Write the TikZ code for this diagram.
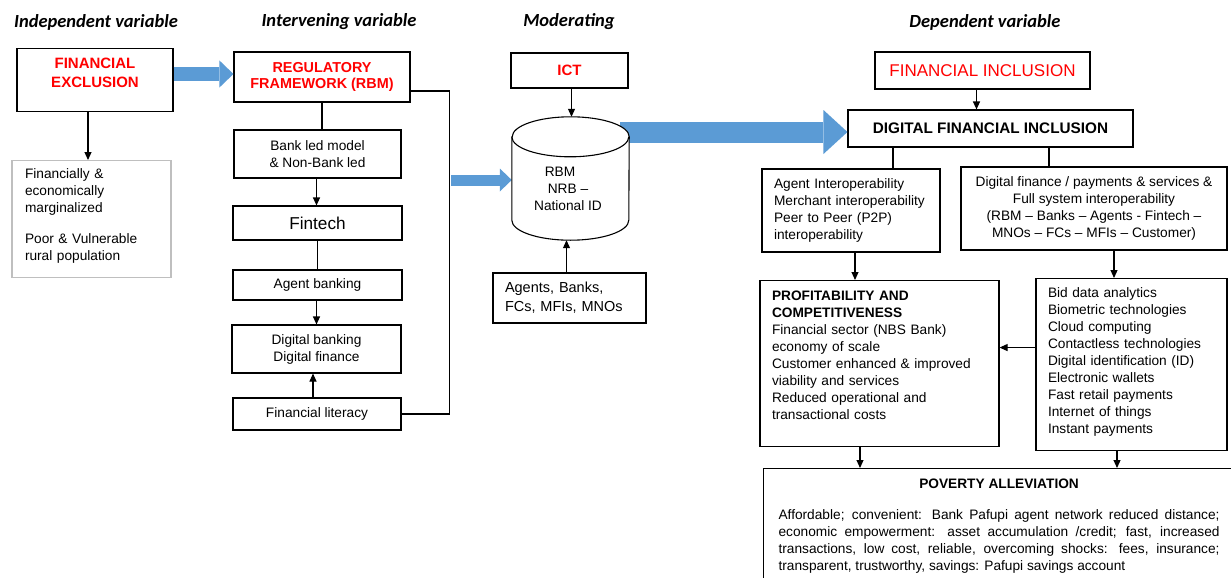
\documentclass[tikz,border=0pt]{standalone}
\usepackage{fontspec}
\setmainfont{Liberation Sans}
\newfontfamily\headfont{Carlito}
\usetikzlibrary{arrows.meta}
\definecolor{flowblue}{RGB}{91,155,213}
\definecolor{keyred}{RGB}{255,0,0}
\tikzset{
	box/.style={draw, line width=1.1pt, inner sep=0pt, align=center, font=\fontsize{13.7}{17}\selectfont},
	leftbox/.style={box, align=left, inner xsep=12pt},
	keybox/.style={box, text=keyred, font=\fontsize{15}{19}\selectfont\bfseries},
	head/.style={font=\headfont\fontsize{18.5}{22}\selectfont\bfseries\itshape},
	link/.style={line width=1.1pt, -{Triangle[length=8pt,width=7pt]}},
	plain/.style={line width=1.1pt},
	flow/.style={flowblue, line width=#1}
}
\begin{document}
\begin{tikzpicture}[x=1pt,y=-1pt]
				\useasboundingbox (0,0) rectangle (1231,578);
				\node[head] (hind) at (96,22) {Independent variable};
				\node[head] (hint) at (339,22) {Intervening variable};
				\node[head] (hmod) at (569,22) {Moderating};
				\node[head] (hdep) at (985,22) {Dependent variable};
				\node[keybox, minimum width=156pt, anchor=north, text height=39pt, text depth=24pt] (fe) at (95,48) {FINANCIAL\\EXCLUSION};
				\node[leftbox, draw=black!25, text width=133pt, inner xsep=13pt, anchor=north, text height=18pt, text depth=99pt] (marg) at (91.5,160)
					{Financially \&\\economically\\marginalized\\[14pt]Poor \& Vulnerable\\rural population};
				\node[keybox, minimum width=176pt, minimum height=50pt, font=\fontsize{14.4}{16}\selectfont\bfseries] (reg) at (322,77) {REGULATORY\\FRAMEWORK (RBM)};
				\node[box, minimum width=167pt, minimum height=48pt] (bank) at (317.5,154) {Bank led model\\\& Non-Bank led};
				\node[box, minimum width=169pt, minimum height=34pt, font=\fontsize{17.2}{19}\selectfont] (fintech) at (317.5,223) {Fintech};
				\node[box, minimum width=169pt, minimum height=30pt] (agentb) at (317.5,285) {Agent banking};
				\node[box, minimum width=169pt, minimum height=48pt] (digi) at (316.5,349) {Digital banking\\Digital finance};
				\node[box, minimum width=168pt, minimum height=32pt] (lit) at (317,414) {Financial literacy};
				\node[keybox, minimum width=117pt, minimum height=35pt] (ict) at (569.5,70.5) {ICT};
				\node[minimum width=117pt, minimum height=123pt, inner sep=0pt] (db) at (570.5,178.5) {};
				\node[leftbox, text width=129pt, minimum height=50pt, font=\fontsize{14.5}{19}\selectfont] (agents) at (569.5,298) {Agents, Banks,\\FCs, MFIs, MNOs};
				\node[box, minimum width=215pt, minimum height=37pt, text=keyred, font=\fontsize{17}{20}\selectfont] (fi) at (982.5,70.5) {FINANCIAL INCLUSION};
				\node[box, minimum width=285pt, minimum height=37pt, font=\fontsize{15.3}{18}\selectfont\bfseries] (dfi) at (990.5,128.5) {DIGITAL FINANCIAL INCLUSION};
				\node[leftbox, text width=154pt, minimum height=83pt] (interop) at (851,210.5)
					{Agent Interoperability\\Merchant interoperability\\Peer to Peer (P2P)\\interoperability};
				\node[box, minimum width=266pt, minimum height=83pt] (fullsys) at (1094,208.5)
					{Digital finance / payments \& services \&\\Full system interoperability\\(RBM -- Banks -- Agents - Fintech --\\MNOs -- FCs -- MFIs -- Customer)};
				\node[leftbox, text width=215pt, anchor=north, text height=20pt, text depth=146pt] (profit) at (879.5,280)
					{\textbf{PROFITABILITY AND}\\\textbf{COMPETITIVENESS}\\Financial sector (NBS Bank)\\economy of scale\\Customer enhanced \& improved\\viability and services\\Reduced operational and\\transactional costs};
				\node[leftbox, text width=167pt, anchor=north, text height=19pt, text depth=153pt] (tech) at (1131.5,278)
					{Bid data analytics\\Biometric technologies\\Cloud computing\\Contactless technologies\\Digital identification (ID)\\Electronic wallets\\Fast retail payments\\Internet of things\\Instant payments};
				\node[box, anchor=north west, text width=441pt, inner xsep=15pt, inner ysep=0pt, text height=20pt, text depth=100pt, align=justify] (pov) at (763,468)
					{\hyphenpenalty=10000\exhyphenpenalty=10000\makebox[\linewidth]{\bfseries POVERTY ALLEVIATION}\\[14pt]Affordable; convenient: Bank Pafupi agent network reduced distance; economic empowerment: asset accumulation /credit; fast, increased transactions, low cost, reliable, overcoming shocks: fees, insurance; transparent, trustworthy, savings: Pafupi savings account};
				\draw[flow=14pt, -{Triangle[length=14pt,width=27pt,line width=0pt]}] (fe.east |- 0,74) -- (reg.west |- 0,74);
				\coordinate (loop) at (451,180);
				\draw[flow=11pt, -{Triangle[length=12pt,width=23pt,line width=0pt]}] (loop) -- (loop -| db.west);
				\coordinate (big) at (620,132);
				\draw[flow=21pt, -{Triangle[length=24pt,width=44pt,line width=0pt]}] (big) -- (big -| dfi.west);
				\draw[plain, fill=white] ([yshift=-20]db.north west) -- ([yshift=20]db.south west)
					arc[start angle=180, end angle=360, x radius=58.5pt, y radius=20pt] -- ([yshift=-20]db.north east)
					arc[start angle=0, end angle=180, x radius=58.5pt, y radius=20pt] -- cycle;
				\draw[plain] ([yshift=-20]db.north west) arc[start angle=180, end angle=360, x radius=58.5pt, y radius=20pt];
				\node[font=\fontsize{13.7}{17}\selectfont, align=center] (dbtext) at (568,189) {RBM\hspace*{16pt}\\NRB --\\National ID};
				\draw[link] ([xshift=-7]fe.south) -- ([xshift=-7]fe.south |- marg.north);
				\draw[plain] (reg.south) -- (reg.south |- bank.north);
				\draw[link] ([xshift=-1]bank.south) -- ([xshift=-1]bank.south |- fintech.north);
				\draw[plain] (fintech.south) -- (agentb.north);
				\draw[link] ([xshift=-1]agentb.south) -- ([xshift=-1]agentb.south |- digi.north);
				\draw[link] ([xshift=-4]lit.north) -- ([xshift=-4]lit.north |- digi.south);
				\draw[plain] ([yshift=-14]reg.east) -- ++(39,0) |- (lit.east);
				\draw[link] ([xshift=2]ict.south) -- ([xshift=2]ict.south |- db.north);
				\draw[link] ([xshift=-3]agents.north) -- ([xshift=-3]agents.north |- db.south);
				\draw[link] ([xshift=-6]fi.south) -- ([xshift=-6]fi.south |- dfi.north);
				\draw[plain] ([xshift=42]interop.north) -- ([xshift=42]interop.north |- dfi.south);
				\draw[plain] ([xshift=-45]fullsys.north) -- ([xshift=-45]fullsys.north |- dfi.south);
				\draw[link] ([xshift=4]interop.south) -- ([xshift=4]interop.south |- profit.north);
				\draw[link] ([xshift=20]fullsys.south) -- ([xshift=20]fullsys.south |- tech.north);
				\draw[link] ([yshift=17]tech.west) -- ([yshift=17]tech.west -| profit.east);
				\draw[link] ([xshift=-19.5]profit.south) -- ([xshift=-19.5]profit.south |- pov.north);
				\draw[link] ([xshift=-14.5]tech.south) -- ([xshift=-14.5]tech.south |- pov.north);
			\end{tikzpicture}
\end{document}
